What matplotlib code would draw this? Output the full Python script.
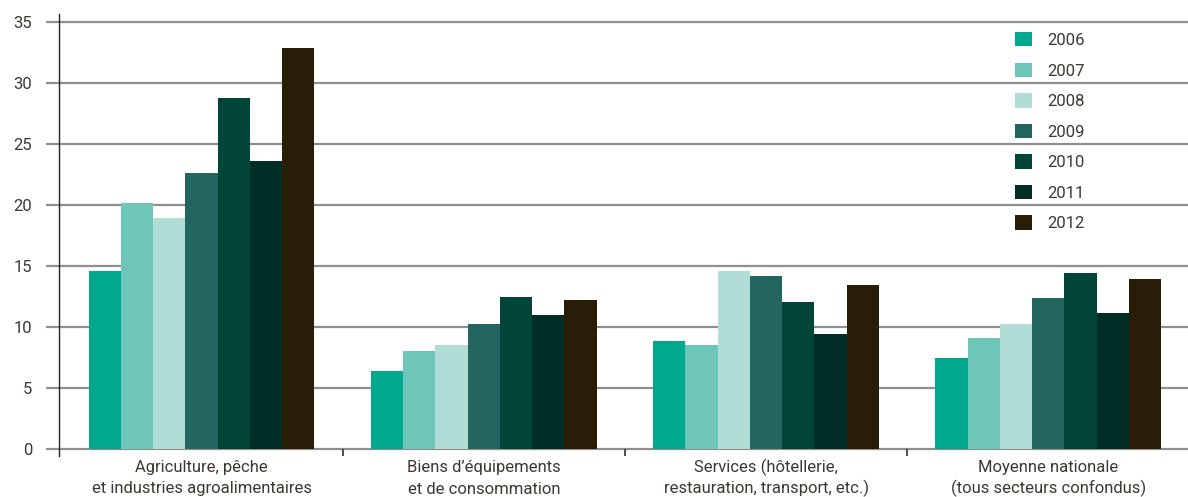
import matplotlib
matplotlib.use("Agg")
import matplotlib.pyplot as plt
import matplotlib.transforms as mtransforms
import numpy as np

categories = ["Agriculture, pêche\net industries agroalimentaires",
              "Biens d’équipements\net de consommation",
              "Services (hôtellerie,\nrestauration, transport, etc.)",
              "Moyenne nationale\n(tous secteurs confondus)"]
years = ["2006", "2007", "2008", "2009", "2010", "2011", "2012"]
values = {
    "2006": [14.6, 6.4, 8.85, 7.45],
    "2007": [20.2, 8.0, 8.5, 9.1],
    "2008": [18.9, 8.5, 14.6, 10.25],
    "2009": [22.65, 10.25, 14.2, 12.4],
    "2010": [28.8, 12.5, 12.05, 14.4],
    "2011": [23.65, 11.0, 9.4, 11.15],
    "2012": [32.9, 12.2, 13.45, 13.9],
}
colors = ["#00a88e", "#6ec6b9", "#b1ddd7", "#236660", "#014438", "#012d27", "#291d08"]
yticks = [0, 5, 10, 15, 20, 25, 30, 35]

plt.rcParams['font.family'] = ['Roboto', 'DejaVu Sans']
text_color = "#3d3832"

W, H = 1188, 497
fig = plt.figure(figsize=(W / 100, H / 100), dpi=100)
ax = fig.add_axes([59 / W, (H - 456) / H, (1188 - 59) / W, (456 - 14) / H])

n = len(years)
bw = 0.8 / n
x = np.arange(len(categories))
for i, (yr, c) in enumerate(zip(years, colors)):
    ax.bar(x - 0.4 + bw * (i + 0.5), values[yr], width=bw, color=c, label=yr, zorder=3, linewidth=0)

ax.set_xlim(-0.505, 3.495)
ax.set_ylim(-0.57, 35.66)
for t in yticks:
    ax.axhline(t, color="#8f8f8f", linewidth=1.6, zorder=1)
ax.set_yticks(yticks)
ax.tick_params(axis='y', length=9.4, width=1.6, color="#8f8f8f", pad=10, labelsize=12, labelcolor=text_color)
ax.set_xticks([])
ax.vlines([0.5, 1.5, 2.5], -0.57, 0, color="#333333", linewidth=1.2, zorder=2)

trans = mtransforms.blended_transform_factory(ax.transData, fig.transFigure)
for xi, lab in zip(x, categories):
    l1, l2 = lab.split("\n")
    ax.text(xi, 1 - 472 / H, l1, transform=trans, ha="center", va="baseline",
            fontsize=12, color=text_color)
    ax.text(xi, 1 - 493.5 / H, l2, transform=trans, ha="center", va="baseline",
            fontsize=12, color=text_color)

for s in ["top", "right", "bottom"]:
    ax.spines[s].set_visible(False)
ax.spines["left"].set_color("#222222")
ax.spines["left"].set_linewidth(1.0)
ax.spines["left"].set_zorder(4)

leg = ax.legend(loc="upper left", bbox_to_anchor=(1015 / W, 1 - 32 / H), bbox_transform=fig.transFigure,
                frameon=False, fontsize=12, handlelength=1.0, handleheight=0.95,
                handletextpad=0.95, labelspacing=0.88, borderpad=0, borderaxespad=0)
for t in leg.get_texts():
    t.set_color(text_color)

fig.savefig("out.png", dpi=100)
